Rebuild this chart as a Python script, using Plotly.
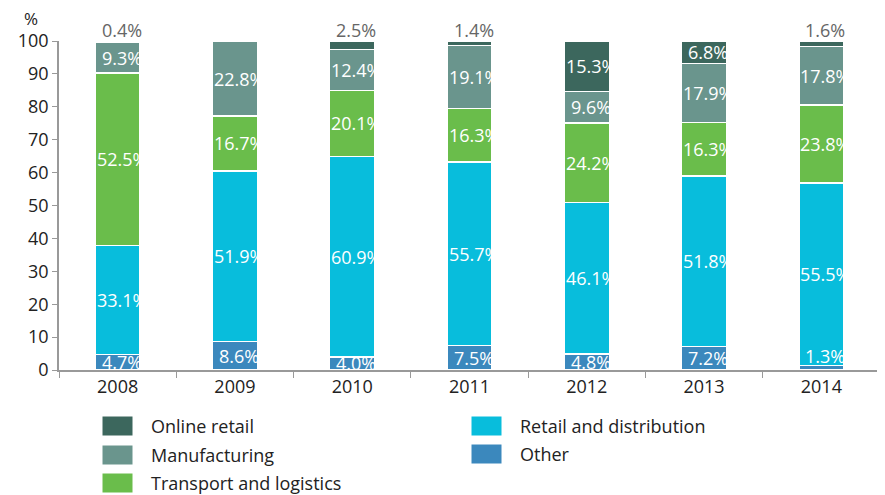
import plotly.graph_objects as go

years = ["2008", "2009", "2010", "2011", "2012", "2013", "2014"]
other = [4.7, 8.6, 4.0, 7.5, 4.8, 7.2, 1.3]
retail = [33.1, 51.9, 60.9, 55.7, 46.1, 51.8, 55.5]
transport = [52.5, 16.7, 20.1, 16.3, 24.2, 16.3, 23.8]
manufacturing = [9.3, 22.8, 12.4, 19.1, 9.6, 17.9, 17.8]
online = [0.4, 0.0, 2.5, 1.4, 15.3, 6.8, 1.6]

series = [
    ("Other", other, "#3b88bd"),
    ("Retail and distribution", retail, "#08bddc"),
    ("Transport and logistics", transport, "#6abd4b"),
    ("Manufacturing", manufacturing, "#6a958d"),
    ("Online retail", online, "#3c675d"),
]

FONT = "Open Sans, Noto Sans, DejaVu Sans, sans-serif"
OFF = 8  # page body margin
W, H = 885 - OFF, 495 - OFF
L, R, T, B = 59 - OFF, 5, 41 - OFF, 125
PW, PH = W - L - R, H - T - B


def px(x):
    return (x - OFF - L) / PW


def py(y):
    return (H - B - (y - OFF)) / PH


fig = go.Figure()
for name, vals, color in series:
    fig.add_trace(go.Bar(
        x=years, y=vals, name=name,
        marker=dict(color=color, line=dict(color="white", width=1.5)),
        showlegend=False,
    ))

annotations = []
base = [0.0] * len(years)
for name, vals, color in series:
    for i, v in enumerate(vals):
        if v > 0:
            if v >= 3:
                y, col, anchor, ys = base[i] + v / 2, "white", "middle", 0
            elif name == "Other":
                y, col, anchor, ys = base[i] + 4.2, "white", "middle", 0
            else:
                y, col, anchor, ys = min(round(base[i] + v, 6), 99.99), "#666666", "bottom", -3
            annotations.append(dict(
                x=i, y=y, xref="x", yref="y",
                text=f"{v:.1f}%", showarrow=False, yanchor=anchor,
                font=dict(family=FONT, size=18, color=col),
                xshift=4, yshift=ys,
            ))
        base[i] += v

annotations.append(dict(
    x=px(31), y=py(19), xref="paper", yref="paper", showarrow=False,
    xanchor="center", yanchor="middle",
    text="%", font=dict(family=FONT, size=17, color="#222222"),
))

legend_items = [
    ("Online retail", "#3c675d", 102, 426),
    ("Manufacturing", "#6a958d", 102, 455),
    ("Transport and logistics", "#6abd4b", 102, 483),
    ("Retail and distribution", "#08bddc", 471, 426),
    ("Other", "#3b88bd", 471, 454),
]
shapes = []
for label, color, x0, yc in legend_items:
    shapes.append(dict(
        type="rect", xref="paper", yref="paper",
        x0=px(x0), x1=px(x0 + 31),
        y0=py(yc + 10), y1=py(yc - 10),
        fillcolor=color, line=dict(color="white", width=1),
    ))
    annotations.append(dict(
        x=px(x0 + 47), y=py(yc), xref="paper", yref="paper",
        text=label, showarrow=False, xanchor="left", yanchor="middle",
        font=dict(family=FONT, size=18, color="#222222"),
    ))

fig.update_layout(
    barmode="stack",
    bargap=0.615,
    width=W, height=H,
    margin=dict(l=L, r=R, t=T, b=B),
    plot_bgcolor="white", paper_bgcolor="white",
    font=dict(family=FONT, size=18, color="#222222"),
    annotations=annotations,
    shapes=shapes,
    xaxis=dict(
        type="category", tickson="boundaries", range=[-0.5, 6.5],
        ticks="outside", ticklen=6, tickcolor="#999999",
        showline=True, linecolor="#999999", linewidth=1.5,
        tickfont=dict(family=FONT, size=18, color="#222222"),
        showgrid=False, tickangle=0,
    ),
    yaxis=dict(
        range=[0, 100], tickvals=list(range(0, 101, 10)),
        ticks="outside", ticklen=5, tickcolor="#999999",
        showline=True, linecolor="#999999", linewidth=1.5,
        tickfont=dict(family=FONT, size=18, color="#222222"),
        showgrid=False, zeroline=False,
    ),
)

fig.write_html("out.html")
